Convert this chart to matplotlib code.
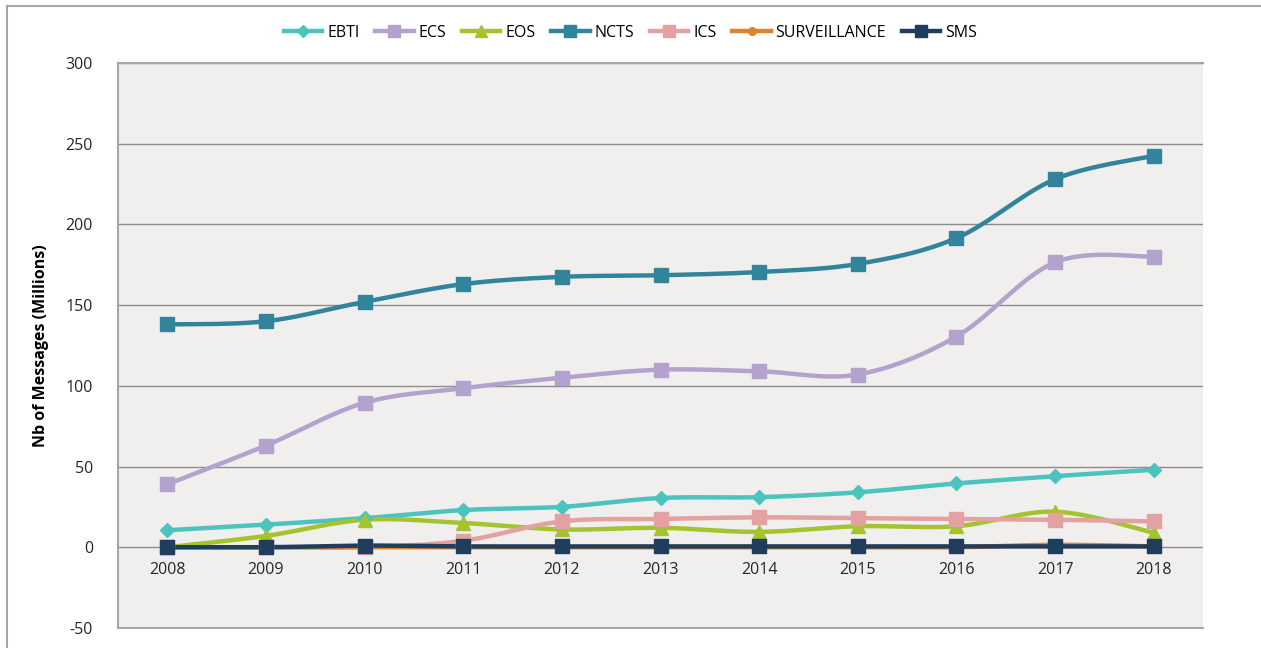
import numpy as np
import matplotlib
matplotlib.use('Agg')
import matplotlib.pyplot as plt
from matplotlib.lines import Line2D

plt.rcParams['font.family'] = ['Open Sans', 'DejaVu Sans']
plt.rcParams['axes.unicode_minus'] = False

years = [2008, 2009, 2010, 2011, 2012, 2013, 2014, 2015, 2016, 2017, 2018]
ebti = [10.5, 14, 18, 23, 25, 30.5, 31, 34, 39.5, 44, 48]
ecs = [39, 63, 89.5, 98.5, 105, 110, 109, 107, 130.5, 176.5, 180]
eos = [0, 7, 17, 15, 11, 12, 9.5, 13, 13, 22, 9]
ncts = [138, 140, 152, 163, 167.5, 168.5, 170.5, 175.5, 191.5, 228, 242.5]
ics = [0, 0, 0, 4, 16, 17.5, 18.5, 18, 17.5, 17, 16]
surveillance = [0, 0, 0, 0, 0, 0, 0, 0, 0, 1.5, 0.5]
sms = [0, 0, 1, 0.5, 0.5, 0.5, 0.5, 0.5, 0.5, 0.5, 0.5]

series = [
    ('EBTI', ebti, '#4BC3BE', 'D', 7.5),
    ('ECS', ecs, '#B3A2CD', 's', 9.5),
    ('EOS', eos, '#A4C42F', '^', 9.5),
    ('NCTS', ncts, '#31849B', 's', 9.5),
    ('ICS', ics, '#E3A1A1', 's', 9.5),
    ('SURVEILLANCE', surveillance, '#E0822E', 'o', 6.5),
    ('SMS', sms, '#203D5E', 's', 9.5),
]


def smooth(x, y, n=20):
    # catmull-rom curve through the points, like excel's smoothed line
    x = np.asarray(x, float)
    y = np.asarray(y, float)
    px = np.concatenate([[x[0]], x, [x[-1]]])
    py = np.concatenate([[y[0]], y, [y[-1]]])
    xs, ys = [], []
    for i in range(1, len(px) - 2):
        t = np.linspace(0, 1, n, endpoint=False)
        for p, out in ((px, xs), (py, ys)):
            p0, p1, p2, p3 = p[i - 1], p[i], p[i + 1], p[i + 2]
            c1 = p1 + (p2 - p0) / 6
            c2 = p2 - (p3 - p1) / 6
            out.extend((1 - t) ** 3 * p1 + 3 * (1 - t) ** 2 * t * c1
                       + 3 * (1 - t) * t ** 2 * c2 + t ** 3 * p2)
    xs.append(x[-1])
    ys.append(y[-1])
    return np.array(xs), np.array(ys)


fig = plt.figure(figsize=(12.61, 6.48), dpi=100)
# outer frame is cropped: only top and left edges show
fig.lines.append(Line2D([0.0056, 1.0], [0.9915, 0.9915], transform=fig.transFigure,
                        color='#A6A6A6', lw=1.5))
fig.lines.append(Line2D([0.0056, 0.0056], [0.0, 0.9915], transform=fig.transFigure,
                        color='#A6A6A6', lw=1.5))
ax = fig.add_axes([0.0936, 0.031, 0.8604, 0.8718])
ax.set_facecolor('#F0EFEE')

handles = []
for name, vals, col, mk, ms in series:
    sx, sy = smooth(years, vals)
    ax.plot(sx, sy, color=col, lw=3.2, solid_capstyle='round', zorder=3)
    ax.plot(years, vals, linestyle='none', marker=mk, ms=ms, color=col, zorder=4)
    h, = ax.plot([], [], color=col, lw=3.2, marker=mk, ms=ms - 1)
    handles.append(h)

ax.set_xlim(2007.5, 2018.5)
ax.set_ylim(-50, 300)
ax.set_yticks(range(-50, 301, 50))
ax.yaxis.grid(True, color='#8C8C8C', lw=1)
ax.set_axisbelow(True)
ax.tick_params(axis='y', length=0, pad=18, labelsize=11.5, colors='#262626')
ax.set_xticks([])
for yr in years:
    ax.annotate(str(yr), xy=(yr, 0), xytext=(0, -11), textcoords='offset points',
                ha='center', va='top', fontsize=11.5, color='#262626')
for s in ax.spines.values():
    s.set_color('#A6A6A6')
    s.set_linewidth(1.5)
ax.spines['right'].set_visible(False)
ax.set_ylabel('Nb of Messages (Millions)', fontsize=11.5, fontweight='bold', labelpad=12)

fig.legend(handles, [s[0] for s in series], loc='center', bbox_to_anchor=(0.5, 0.949),
           ncol=7, frameon=False, fontsize=11.5, handlelength=2.4, columnspacing=1.0,
           handletextpad=0.3)

fig.savefig('out.png', dpi=100)
